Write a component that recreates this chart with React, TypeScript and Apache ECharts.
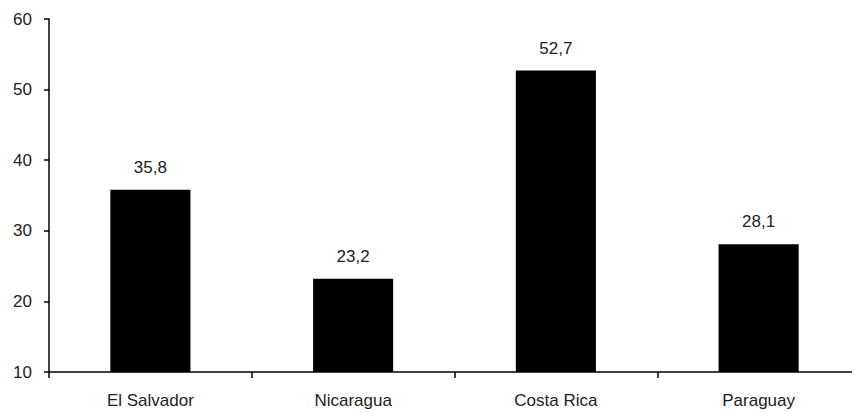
import React, { useEffect, useRef } from "react";
import * as echarts from "echarts";

const categories = ["El Salvador", "Nicaragua", "Costa Rica", "Paraguay"];
const values = [35.8, 23.2, 52.7, 28.1];
const yMin = 10;
const yMax = 60;
const yInterval = 10;

export default function App() {
  const ref = useRef<HTMLDivElement>(null);
  useEffect(() => {
    if (!ref.current) return;
    const chart = echarts.init(ref.current, null, { renderer: "svg" });
    const font = "'Liberation Sans', Arial, sans-serif";
    chart.setOption({
      animation: false,
      grid: { left: 41, top: 11, bottom: 41, right: -8, containLabel: false },
      xAxis: {
        type: "category",
        data: categories,
        axisLine: { show: true, lineStyle: { color: "#000", width: 1.5 } },
        axisTick: { show: true, alignWithLabel: false, length: 6, lineStyle: { color: "#000", width: 1.5 } },
        axisLabel: { color: "#222", fontSize: 17, fontFamily: font, margin: 20 },
      },
      yAxis: {
        type: "value",
        min: yMin,
        max: yMax,
        interval: yInterval,
        splitLine: { show: false },
        axisLine: { show: true, lineStyle: { color: "#000", width: 1.5 } },
        axisTick: { show: true, length: 5, lineStyle: { color: "#000", width: 1.5 } },
        axisLabel: { color: "#222", fontSize: 17, fontFamily: font, margin: 17 },
      },
      series: [
        {
          type: "bar",
          data: values,
          barWidth: "39.5%",
          itemStyle: { color: "#000" },
          label: {
            show: true,
            position: "top",
            distance: 14,
            color: "#222",
            fontSize: 17,
            fontFamily: font,
            formatter: (p: any) => String(p.value).replace(".", ","),
          },
        },
      ],
    });
    return () => chart.dispose();
  }, []);
  return <div ref={ref} style={{ width: 852, height: 405 }} />;
}
